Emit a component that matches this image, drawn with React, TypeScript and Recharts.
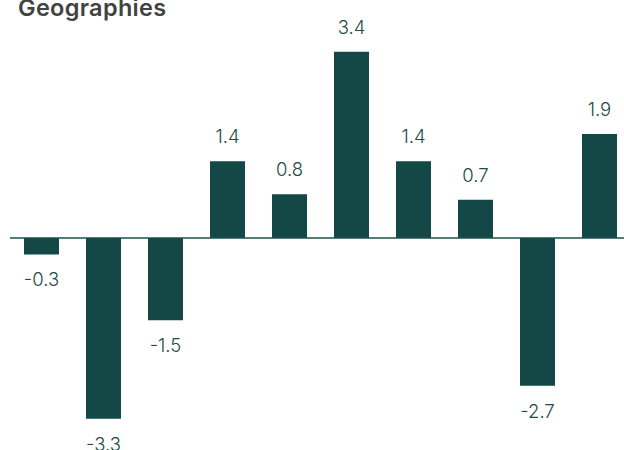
import { Bar, BarChart, LabelList, ReferenceLine, XAxis, YAxis } from "recharts";

const regions = ["A", "B", "C", "D", "E", "F", "G", "H", "I", "J"];
const values = [-0.3, -3.3, -1.5, 1.4, 0.8, 3.4, 1.4, 0.7, -2.7, 1.9];

const data = regions.map((region, i) => ({ region, value: values[i] }));

const TEAL = "#134846";

function ValueLabel(props: any) {
  const { x, y, width, height, value } = props;
  const cx = x + width / 2;
  const neg = value < 0;
  // y/height come in as the bar rect; for negative bars height may be negative
  const top = Math.min(y, y + height);
  const bottom = Math.max(y, y + height);
  const ty = neg ? bottom + 25 : top - 25;
  return (
    <text
      x={cx}
      y={ty}
      textAnchor="middle"
      dominantBaseline="central"
      fill="#1d4c49"
      fontSize={18.5}
      fontWeight={300}
      fontFamily="Inter, 'Noto Sans', sans-serif"
    >
      {value.toFixed(1)}
    </text>
  );
}

export default function App() {
  return (
    <div
      style={{
        position: "absolute",
        left: 0,
        top: 0,
        width: 624,
        height: 450,
        overflow: "hidden",
        background: "#fff",
      }}
    >
      <div
        style={{
          position: "absolute",
          left: 18,
          top: -7,
          fontFamily: "Inter, 'Noto Sans', sans-serif",
          fontWeight: 600,
          fontSize: 23.5,
          letterSpacing: 0.3,
          color: "#424242",
        }}
      >
        Geographies
      </div>
      <BarChart
        width={640}
        height={460}
        data={data}
        margin={{ top: 19, right: 10, bottom: 3, left: 10 }}
        barSize={35}
      >
        <XAxis dataKey="region" hide />
        <YAxis hide domain={[-4, 4]} />
        <Bar dataKey="value" fill={TEAL} isAnimationActive={false}>
          <LabelList dataKey="value" content={ValueLabel} />
        </Bar>
        <ReferenceLine y={0} stroke="#1f4f4c" strokeWidth={1.5} ifOverflow="extendDomain" />
      </BarChart>
    </div>
  );
}
